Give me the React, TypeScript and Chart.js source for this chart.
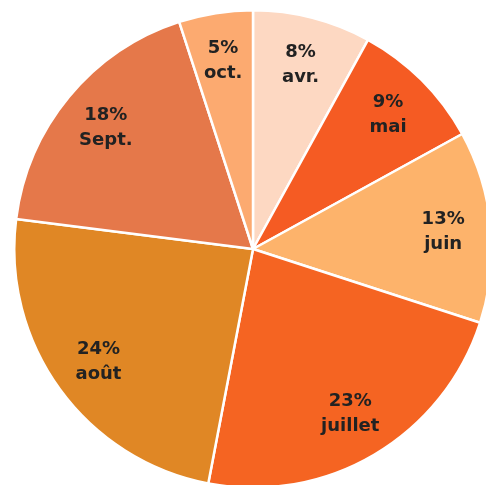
import React, { useEffect, useRef } from "react";
import { Chart, registerables } from "chart.js";

Chart.register(...registerables);

const categories = ["avr.", "mai", "juin", "juillet", "août", "Sept.", "oct."];
const values = [8, 9, 13, 23, 24, 18, 5];
const colors = ["#FDD8C2", "#F55B23", "#FDB36B", "#F56422", "#E08725", "#E5784A", "#FCAA70"];

const labelPlugin = {
  id: "sliceLabels",
  afterDatasetsDraw(chart: any) {
    const ctx = chart.ctx;
    const meta = chart.getDatasetMeta(0);
    ctx.save();
    ctx.fillStyle = "#222222";
    ctx.textAlign = "center";
    ctx.textBaseline = "middle";
    ctx.font = "bold 18px 'DejaVu Sans'";
    meta.data.forEach((arc: any, i: number) => {
      const mid = (arc.startAngle + arc.endAngle) / 2;
      const r = arc.outerRadius * 0.8;
      const x = arc.x + Math.cos(mid) * r;
      const y = arc.y + Math.sin(mid) * r;
      ctx.fillText(values[i] + "%", x, y - 12);
      ctx.fillText(categories[i], x, y + 13);
    });
    ctx.restore();
  },
};

export default function App() {
  const ref = useRef<HTMLCanvasElement>(null);
  useEffect(() => {
    if (!ref.current) return;
    const chart = new Chart(ref.current, {
      type: "pie",
      data: {
        labels: categories,
        datasets: [
          {
            data: values,
            backgroundColor: colors,
            borderColor: "#ffffff",
            borderWidth: 2.5,
          },
        ],
      },
      options: {
        animation: false,
        responsive: false,
        plugins: { legend: { display: false }, tooltip: { enabled: false } },
        layout: { padding: 0 },
      },
      plugins: [labelPlugin],
    });
    return () => chart.destroy();
  }, []);
  return (
    <div style={{ position: "fixed", left: 0, top: 0, width: 486, height: 485, overflow: "hidden", background: "#fff" }}>
      <canvas ref={ref} width={480} height={480} style={{ position: "absolute", left: 13, top: 9, width: 480, height: 480 }} />
    </div>
  );
}
